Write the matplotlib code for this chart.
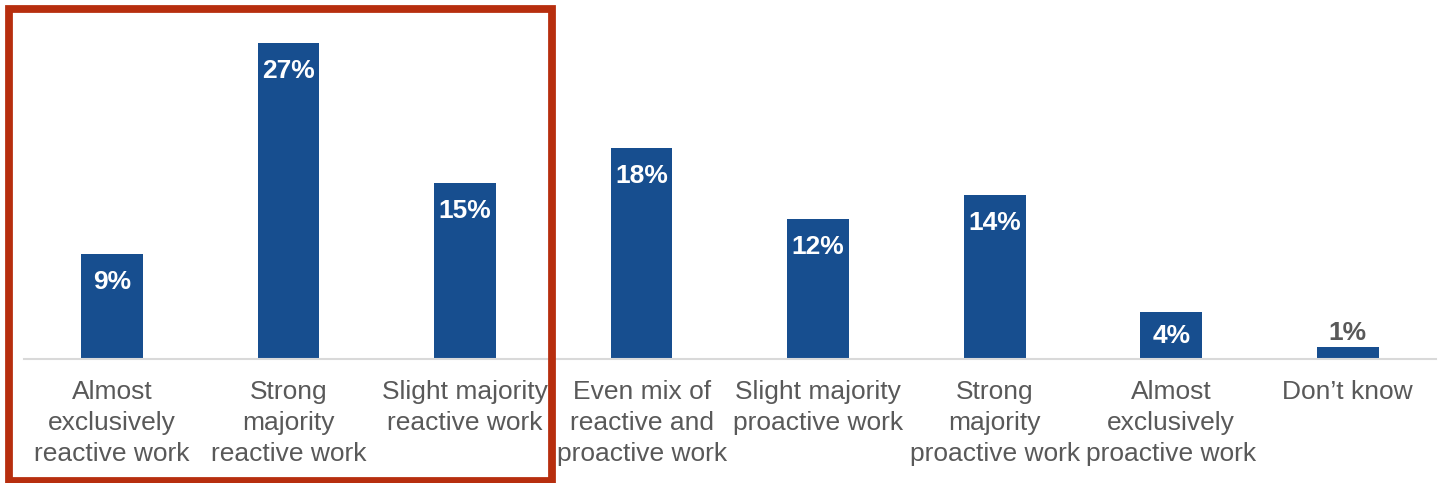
import matplotlib.pyplot as plt
from matplotlib.patches import Rectangle

plt.rcParams['font.family'] = ['Liberation Sans', 'DejaVu Sans']

# Share of respondents by mix of reactive vs proactive work
categories = ['Almost\nexclusively\nreactive work',
              'Strong\nmajority\nreactive work',
              'Slight majority\nreactive work',
              'Even mix of\nreactive and\nproactive work',
              'Slight majority\nproactive work',
              'Strong\nmajority\nproactive work',
              'Almost\nexclusively\nproactive work',
              'Don\u2019t know']
values = [9, 27, 15, 18, 12, 14, 4, 1]

bar_color = '#174e8f'
text_gray = '#595959'

W, H, DPI = 1438, 483, 100
fig = plt.figure(figsize=(W / DPI, H / DPI), dpi=DPI)

# axes placed in pixel terms: baseline at y=359, 11.7 px per percent
left, right, base = 23.7, 1436.0, 359
px_per_pct = 11.7
ymax = 30
ax = fig.add_axes([left / W, (H - base) / H, (right - left) / W, ymax * px_per_pct / H])

x = range(len(categories))
bars = ax.bar(x, values, width=0.35, color=bar_color)
ax.set_xlim(-0.5, len(categories) - 0.5)
ax.set_ylim(0, ymax)

# value labels: inside the bar near its top, above it when the bar is too short
for rect, v in zip(bars, values):
    cx = rect.get_x() + rect.get_width() / 2
    h_px = v * px_per_pct
    if v >= 3:
        off = -min(28, h_px / 2)
        ax.annotate(f'{v}%', (cx, v), xytext=(0, off), textcoords='offset pixels',
                    ha='center', va='center', color='white', fontsize=19,
                    fontweight='bold')
    else:
        ax.annotate(f'{v}%', (cx, v), xytext=(0, 14), textcoords='offset pixels',
                    ha='center', va='center', color=text_gray, fontsize=19,
                    fontweight='bold')

ax.set_xticks(list(x))
ax.set_xticklabels(categories, fontsize=19, color=text_gray, linespacing=1.37)
ax.tick_params(axis='x', length=0, pad=15)
ax.set_yticks([])
for side in ['top', 'right', 'left']:
    ax.spines[side].set_visible(False)
ax.spines['bottom'].set_color('#d9d9d9')
ax.spines['bottom'].set_linewidth(1.5)

# highlight box around the reactive-work categories
bx0, by0, bx1, by1 = 9, 9.3, 551.7, 481
fig.patches.append(Rectangle((bx0 / W, 1 - by1 / H), (bx1 - bx0) / W, (by1 - by0) / H,
                             transform=fig.transFigure, fill=False,
                             edgecolor='#b72e0e', linewidth=5.6))

fig.savefig('out.png', dpi=DPI, facecolor='white')
